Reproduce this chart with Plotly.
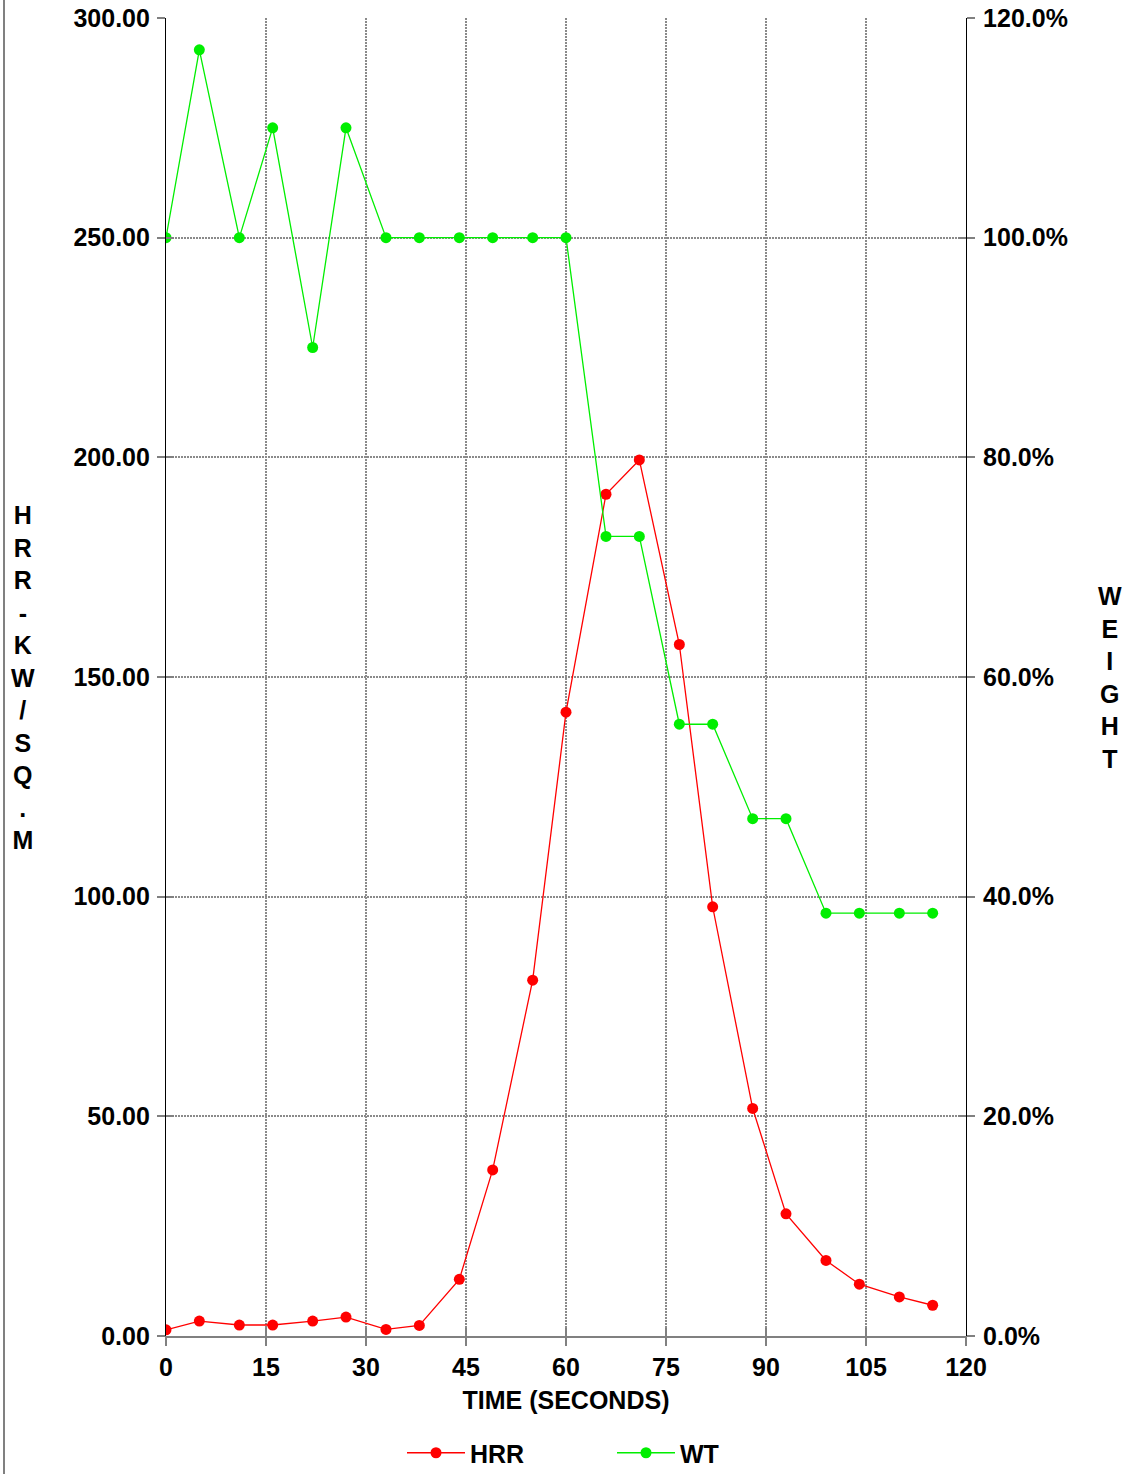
import plotly.graph_objects as go

time_s = [0, 5, 11, 16, 22, 27, 33, 38, 44, 49, 55, 60, 66, 71, 77, 82, 88, 93, 99, 104, 110, 115]
hrr = [1.4, 3.4, 2.5, 2.5, 3.4, 4.3, 1.5, 2.4, 12.9, 37.8, 81.0, 142.0, 191.6, 199.4, 157.4,
       97.7, 51.8, 27.8, 17.2, 11.8, 8.9, 7.0]
wt = [100.0, 117.1, 100.0, 110.0, 90.0, 110.0, 100.0, 100.0, 100.0, 100.0, 100.0, 100.0,
      72.8, 72.8, 55.7, 55.7, 47.1, 47.1, 38.5, 38.5, 38.5, 38.5]
x_ticks = [0, 15, 30, 45, 60, 75, 90, 105, 120]
y_ticks = [0, 50, 100, 150, 200, 250, 300]
y2_ticks = [0, 20, 40, 60, 80, 100, 120]

FONT = "Liberation Sans, Arial, sans-serif"
FS = 25
GRID = "#8a8a8a"
bold = dict(family=FONT, size=FS, color="black", weight="bold")

fig = go.Figure()
fig.add_trace(go.Scatter(x=time_s, y=hrr, name="HRR", mode="lines+markers",
                         line=dict(color="#ff0000", width=1.3),
                         marker=dict(color="#ff0000", size=11), xaxis="x", yaxis="y"))
fig.add_trace(go.Scatter(x=time_s, y=wt, name="WT", mode="lines+markers",
                         line=dict(color="#00ee00", width=1.3),
                         marker=dict(color="#00ee00", size=11), xaxis="x", yaxis="y2"))

fig.update_layout(
    width=1127, height=1474,
    margin=dict(l=166, r=161, t=18, b=138, autoexpand=False),
    paper_bgcolor="white", plot_bgcolor="white",
    font=bold,
    showlegend=True,
    legend=dict(orientation="h", x=(402 - 166) / 800, xanchor="left",
                y=(1336 - 1453) / 1318, yanchor="middle",
                font=bold, itemwidth=58, entrywidth=137, entrywidthmode="pixels",
                bgcolor="rgba(0,0,0,0)"),
    xaxis=dict(range=[0, 120], tickvals=x_ticks, ticktext=[str(v) for v in x_ticks],
               showgrid=True, gridcolor=GRID, griddash="2px,1px", gridwidth=1.5,
               showline=True, linecolor="#808080", linewidth=2,
               ticks="outside", ticklen=8, tickcolor="#808080", tickwidth=2,
               tickfont=bold, ticklabelstandoff=0, zeroline=False, automargin=False,
               title=dict(text="TIME (SECONDS)", font=bold, standoff=11)),
    yaxis=dict(range=[0, 300], tickvals=y_ticks, ticktext=[f"{v:.2f}" for v in y_ticks],
               showgrid=True, gridcolor=GRID, griddash="2px,1px", gridwidth=1.5,
               showline=True, linecolor="black", linewidth=1.2,
               ticks="outside", ticklen=8, tickcolor="#808080", tickwidth=2,
               tickfont=bold, ticklabelstandoff=2, zeroline=False, automargin=False),
    yaxis2=dict(range=[0, 120], tickvals=y2_ticks, ticktext=[f"{v:.1f}%" for v in y2_ticks],
                overlaying="y", side="right", anchor="x",
                showgrid=False, showline=True, linecolor="black", linewidth=1.2,
                ticks="outside", ticklen=8, tickcolor="#808080", tickwidth=2,
                tickfont=bold, ticklabelstandoff=3, zeroline=False, automargin=False),
    xaxis2=dict(range=[0, 120], tickvals=x_ticks, overlaying="x", anchor="y", side="bottom",
                showgrid=False, showline=False, showticklabels=False, automargin=False,
                ticks="inside", ticklen=8, tickcolor="#808080", tickwidth=2, zeroline=False),
    yaxis3=dict(range=[0, 300], tickvals=y_ticks, overlaying="y", anchor="x", side="left",
                showgrid=False, showline=False, showticklabels=False, automargin=False,
                ticks="inside", ticklen=8, tickcolor="#808080", tickwidth=2, zeroline=False),
    yaxis4=dict(range=[0, 120], tickvals=y2_ticks, overlaying="y", anchor="x", side="right",
                showgrid=False, showline=False, showticklabels=False, automargin=False,
                ticks="inside", ticklen=8, tickcolor="#808080", tickwidth=2, zeroline=False),
)

# empty traces so the inside-tick overlay axes render
fig.add_trace(go.Scatter(x=[None], y=[None], xaxis="x2", yaxis="y3", showlegend=False, hoverinfo="skip"))
fig.add_trace(go.Scatter(x=[None], y=[None], xaxis="x2", yaxis="y4", showlegend=False, hoverinfo="skip"))

left_title = "<br>".join(list("HRR-KW/SQ.M"))
right_title = "<br>".join(list("WEIGHT"))
fig.add_annotation(text=left_title, xref="paper", yref="paper",
                   x=(23 - 166) / 800, y=0.5, xanchor="center", yanchor="middle",
                   showarrow=False, font=bold)
fig.add_annotation(text=right_title, xref="paper", yref="paper",
                   x=(1110 - 166) / 800, y=0.5, xanchor="center", yanchor="middle",
                   showarrow=False, font=bold)

# left page frame line
fig.add_shape(type="line", xref="paper", yref="paper",
              x0=(4 - 166) / 800, x1=(4 - 166) / 800,
              y0=(1336 - 1474) / 1318, y1=(1336 - 0) / 1318,
              line=dict(color="#808080", width=2))

fig.write_html("out.html", config={"displayModeBar": False},
               post_script="document.body.style.margin='0';document.body.style.overflow='hidden';")
